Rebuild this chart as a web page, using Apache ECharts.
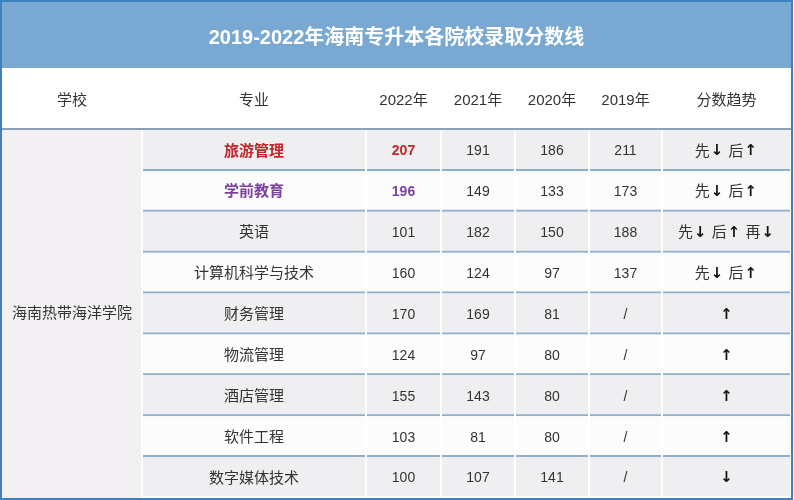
<!DOCTYPE html>
<html><head><meta charset="utf-8">
<script src="https://cdn.jsdelivr.net/npm/echarts@6/dist/echarts.min.js"></script>
<style>html,body{margin:0;padding:0;background:#fff}#c{width:794px;height:500px}</style>
</head><body><div id="c"></div>
<script>
// ---- data ----
const titleText = '2019-2022年海南专升本各院校录取分数线';
const headers = ['学校', '专业', '2022年', '2021年', '2020年', '2019年', '分数趋势'];
const school = '海南热带海洋学院';
const majors = ['旅游管理', '学前教育', '英语', '计算机科学与技术', '财务管理', '物流管理', '酒店管理', '软件工程', '数字媒体技术'];
const score2022 = [207, 196, 101, 160, 170, 124, 155, 103, 100];
const score2021 = [191, 149, 182, 124, 169, 97, 143, 81, 107];
const score2020 = [186, 133, 150, 97, 81, 80, 80, 80, 141];
const score2019 = [211, 173, 188, 137, '/', '/', '/', '/', '/'];
const trends = ['先↓ 后↑', '先↓ 后↑', '先↓ 后↑ 再↓', '先↓ 后↑', '↑', '↑', '↑', '↑', '↓'];

// ---- layout / style (not data) ----
const COL_EDGES = [1, 141, 365, 440, 514, 588, 661, 790];
const TITLE_Y = [1, 67];
const HEADER_Y = [67, 129];
const BODY_Y = [129, 497];
const FONT = '"Liberation Sans", "Noto Sans CJK SC", sans-serif';
const C = {
  title: '#79a9d3', text: '#333333', grey: '#efeff1', white: '#fcfcfd', school: '#f2f0f3',
  line: '#8cafcc', headLine: '#8aa1b3', red: '#c1262c', purple: '#7b3f9f'
};
const emphasisRows = { 0: C.red, 1: C.purple };

const nRows = majors.length;
const rowH = (BODY_Y[1] - BODY_Y[0]) / nRows;
const cells = [];
cells.push({ kind: 'title', text: titleText, box: [COL_EDGES[0], COL_EDGES[7], TITLE_Y[0], TITLE_Y[1]] });
headers.forEach((h, i) => cells.push({ kind: 'header', text: h, box: [COL_EDGES[i], COL_EDGES[i + 1], HEADER_Y[0], HEADER_Y[1]] }));
cells.push({ kind: 'school', text: school, box: [COL_EDGES[0], COL_EDGES[1], BODY_Y[0], BODY_Y[1]] });
const columns = [majors, score2022, score2021, score2020, score2019, trends];
for (let r = 0; r < nRows; r++) {
  columns.forEach((col, ci) => {
    const c = ci + 1;
    cells.push({
      kind: 'body', row: r, col: c, text: String(col[r]),
      box: [COL_EDGES[c], COL_EDGES[c + 1], BODY_Y[0] + r * rowH, BODY_Y[0] + (r + 1) * rowH]
    });
  });
}

const chart = echarts.init(document.getElementById('c'), null, { renderer: 'canvas' });
chart.setOption({
  animation: false,
  backgroundColor: '#ffffff',
  grid: { left: 1, top: 1, width: 791, height: 498, show: true, borderColor: '#3a82c2', borderWidth: 2, backgroundColor: '#ffffff' },
  xAxis: { type: 'value', min: 0, max: 791, show: false },
  yAxis: { type: 'value', min: 0, max: 498, inverse: true, show: false },
  series: [{
    type: 'custom',
    coordinateSystem: 'cartesian2d',
    clip: false,
    encode: { x: [0, 1], y: [2, 3] },
    data: cells.map(c => c.box),
    renderItem: function (params, api) {
      const c = cells[params.dataIndex];
      const p0 = api.coord([api.value(0), api.value(2)]);
      const p1 = api.coord([api.value(1), api.value(3)]);
      const x = p0[0], y = p0[1], w = p1[0] - p0[0], h = p1[1] - p0[1];
      const children = [];
      let fill = '#fff', color = C.text, size = 15, weight = 'normal', dy = 0, text = c.text, rich = null;
      if (c.kind === 'title') {
        children.push({ type: 'rect', shape: { x: x, y: y, width: w, height: h }, style: { fill: C.title } });
        color = '#ffffff'; size = 20; weight = 'bold'; dy = 3;
      } else if (c.kind === 'header') {
        children.push({ type: 'rect', shape: { x: x, y: y, width: w, height: h - 2 }, style: { fill: '#ffffff' } });
        children.push({ type: 'rect', shape: { x: x, y: y + h - 2, width: w, height: 2 }, style: { fill: C.headLine } });
        dy = 2;
      } else if (c.kind === 'school') {
        children.push({ type: 'rect', shape: { x: x, y: y, width: w - 1, height: h }, style: { fill: C.school } });
      } else {
        fill = c.row % 2 === 0 ? C.grey : C.white;
        children.push({ type: 'rect', shape: { x: x + 1, y: y, width: w - 2, height: h - 2 }, style: { fill: fill } });
        if (c.row < nRows - 1) {
          children.push({ type: 'rect', shape: { x: x + 1, y: y + h - 2, width: w - 2, height: 2 }, style: { fill: C.line } });
        }
        if (emphasisRows[c.row] && c.col <= 2) { color = emphasisRows[c.row]; weight = 'bold'; }
        if (c.col >= 2 && c.col <= 5) size = 14;
        if (c.col === 6) {
          text = c.text.replace(/([↑↓])/g, '{a|$1}');
          rich = { a: { fontSize: 15, fontWeight: 'bold', fontFamily: '"DejaVu Sans"', fill: '#111', padding: [0, 1, 0, 1] } };
        }
        dy = 1;
      }
      const st = {
        text: text, x: x + w / 2, y: y + h / 2 + dy, align: 'center', verticalAlign: 'middle',
        fill: color, fontSize: size, fontWeight: weight, fontFamily: FONT
      };
      if (rich) st.rich = rich;
      children.push({ type: 'text', style: st });
      return { type: 'group', children: children };
    }
  }]
});
</script>
</body></html>
